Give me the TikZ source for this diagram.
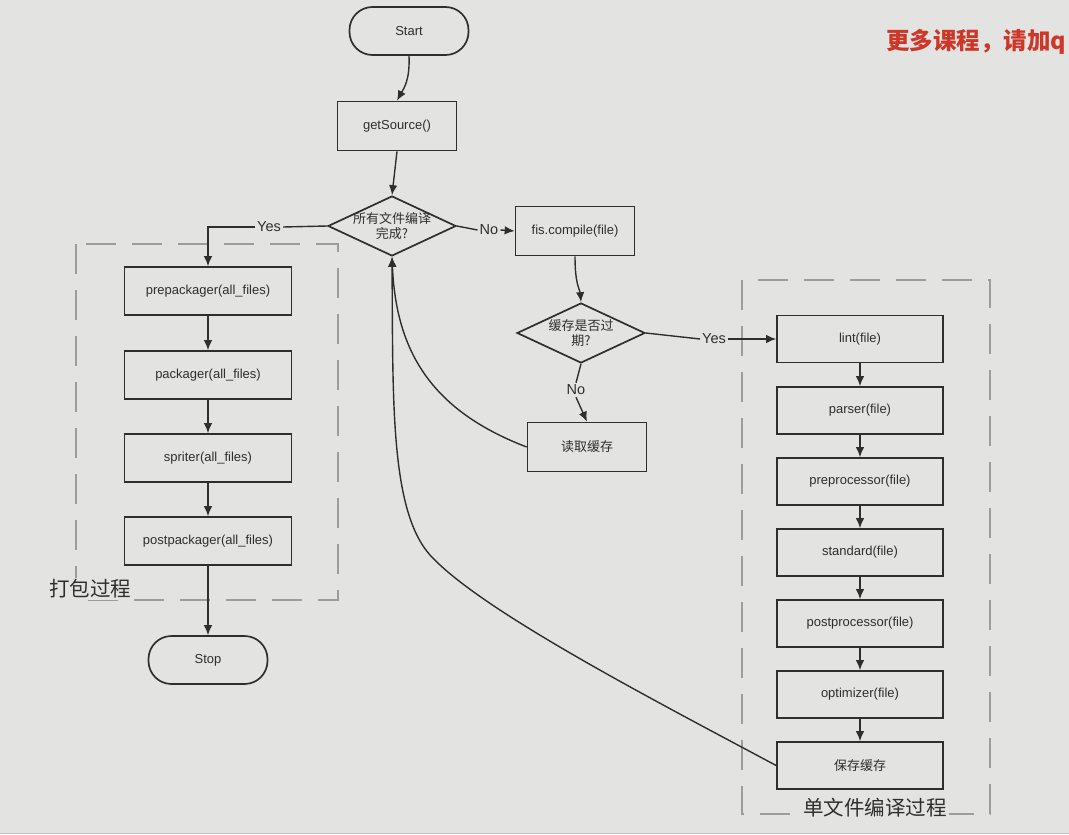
\documentclass[tikz,border=0pt]{standalone}
\usepackage{fontspec}
\setmainfont{Liberation Sans}
\newfontfamily\cjk{Noto Sans CJK SC}
\usetikzlibrary{shapes.geometric,arrows.meta}
\definecolor{bg}{HTML}{E3E3E1}
\definecolor{ink}{HTML}{2E2E2E}
\definecolor{dashgray}{HTML}{9C9C9C}
\definecolor{wm}{HTML}{CE3628}

\begin{document}
\begin{tikzpicture}[x=1pt,y=-1pt,
  every node/.style={text=ink},
  proc/.style={draw=ink, line width=1.7pt, rectangle, minimum width=119pt, minimum height=49pt,
    font=\fontsize{13}{15}\selectfont, inner sep=0pt},
  wide/.style={proc, minimum width=167pt, minimum height=48pt},
  narrowstep/.style={proc, minimum width=166pt, minimum height=47pt},
  term/.style={proc, rounded corners=23pt, minimum width=119pt, minimum height=48pt},
  decide/.style={draw=ink, line width=1.7pt, diamond, aspect=2.13, minimum width=128pt,
    minimum height=60pt, inner sep=-4pt, font=\cjk\fontsize{13}{15}\selectfont, align=center},
  flow/.style={draw=ink, line width=1.4pt, -{Latex[length=10pt,width=8.5pt]}},
  link/.style={draw=ink, line width=1.4pt},
  tag/.style={fill=bg, inner sep=2pt, font=\fontsize{14.5}{16}\selectfont},
  group/.style={draw=dashgray, line width=2.8pt, dash pattern=on 30pt off 16pt},
  caption/.style={fill=bg, inner sep=2pt, font=\cjk\fontsize{20.5}{22}\selectfont, text=ink}
]
\useasboundingbox (0,0) rectangle (1069,835);
\fill[bg] (0,0) rectangle (1069,835);
\fill[white] (0,833) rectangle (1069,835);
\draw[gray!50, line width=1pt] (0,833) -- (1069,833);

% dashed group frames
\draw[group] (76,244) rectangle (338,600);
\draw[group] (742,280) rectangle (990,814);

% main flow
\node[term] (start) at (409,31) {Start};
\node[proc] (src) at (397,126) {getSource()};
\node[decide] (done) at (392,226) {所有文件编译\\完成?};
\node[proc] (compile) at (575,231) {fis.compile(file)};
\node[decide] (stale) at (581,333) {缓存是否过\\期?};
\node[proc, font=\cjk\fontsize{13}{15}\selectfont] (read) at (587,447) {读取缓存};

% packaging steps
\node[wide] (pre) at (208,291) {prepackager(all\_files)};
\node[wide] (pack) at (208,375) {packager(all\_files)};
\node[wide] (sprite) at (208,458) {spriter(all\_files)};
\node[wide] (post) at (208,541) {postpackager(all\_files)};
\node[term] (stop) at (208,660) {Stop};

% per-file compile steps
\node[narrowstep] (lint) at (860,339) {lint(file)};
\node[narrowstep] (parse) at (860,410.5) {parser(file)};
\node[narrowstep] (prep) at (860,481.5) {preprocessor(file)};
\node[narrowstep] (std) at (860,552.5) {standard(file)};
\node[narrowstep] (postp) at (860,623.5) {postprocessor(file)};
\node[narrowstep] (opt) at (860,694.5) {optimizer(file)};
\node[narrowstep, font=\cjk\fontsize{13}{15}\selectfont] (save) at (860,765.5) {保存缓存};

% branch labels
\node[tag] (yesL) at (269,227) {Yes};
\node[tag] (noR) at (489,230) {No};
\node[tag] (yesR) at (714,339) {Yes};
\node[tag] (noD) at (576,390) {No};

% group captions
\node[caption] (packcap) at (90,589) {打包过程};
\node[caption] (filecap) at (875,808) {单文件编译过程};

\node[anchor=west, text=wm, font=\cjk\bfseries\fontsize{23.5}{26}\selectfont, inner sep=0pt] (ad) at (886,42) {更多课程，请加q};

% connectors
\draw[flow] (start.south) .. controls (410,80) and (404,88) .. (src.north);
\draw[flow] (src.south) -- (done.north);
\draw[link] (done.west) -- (yesL.east);
\draw[flow] (yesL.west) -| (pre.north);
\draw[link] (done.east) -- (noR.west);
\draw[flow] (noR.east) -- (compile.west);
\draw[flow] (compile.south) .. controls (575,285) and (580,290) .. (stale.north);
\draw[link] (stale.east) -- (yesR.west);
\draw[flow] (yesR.east) -- (lint.west);
\draw[link] (stale.south) -- (noD.north);
\draw[flow] (noD.south) -- (read.north);

\draw[flow] (pre) -- (pack);
\draw[flow] (pack) -- (sprite);
\draw[flow] (sprite) -- (post);
\draw[flow] (post) -- (stop);

\draw[flow] (lint) -- (parse);
\draw[flow] (parse) -- (prep);
\draw[flow] (prep) -- (std);
\draw[flow] (std) -- (postp);
\draw[flow] (postp) -- (opt);
\draw[flow] (opt) -- (save);

% loops back to the completion check
\coordinate (bend) at (430,555);
\draw[flow] (read.west) .. controls (430,410) and (396,350) .. (done.south);
\draw[link] (save.west) .. controls (650,698) and (480,610) .. (bend);
\draw[flow] (bend) .. controls (390,510) and (393,400) .. (done.south);
\end{tikzpicture}
\end{document}
